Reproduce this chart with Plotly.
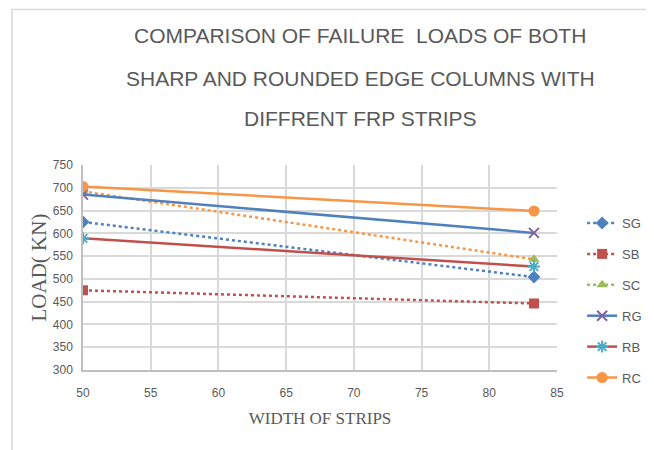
import plotly.graph_objects as go

widths = [50, 83.3]
SG = [625, 504]
SB = [475, 446]
SC = [692, 543]
RG = [685, 601]
RB = [589, 527]
RC = [703, 649]

x_ticks = [50, 55, 60, 65, 70, 75, 80, 85]
y_ticks = [300, 350, 400, 450, 500, 550, 600, 650, 700, 750]

title_lines = ["COMPARISON OF FAILURE  LOADS OF BOTH",
               "SHARP AND ROUNDED EDGE COLUMNS WITH",
               "DIFFRENT FRP STRIPS"]

BLUE = "#4F81BD"
RED = "#C0504D"
GREEN = "#9BBB59"
PURPLE = "#8064A2"
CYAN = "#4BACC6"
ORANGE = "#F79646"
TXT = "#595959"
SANS = "Liberation Sans, Arial, sans-serif"
SERIF = "Liberation Serif, Times New Roman, serif"

fig = go.Figure()

fig.add_trace(go.Scatter(x=widths, y=SG, name="SG", mode="lines+markers", legendgroup="a",
                         line=dict(color=BLUE, width=2.5, dash="dot"),
                         marker=dict(symbol="diamond", size=10, color=BLUE)))
fig.add_trace(go.Scatter(x=widths, y=SB, name="SB", mode="lines+markers", legendgroup="b",
                         line=dict(color=RED, width=2.5, dash="dot"),
                         marker=dict(symbol="square", size=10, color=RED)))
# SC: plotted line is orange dotted, legend shows green dotted
fig.add_trace(go.Scatter(x=widths, y=SC, name="SC", mode="lines+markers", showlegend=False,
                         line=dict(color=ORANGE, width=2.5, dash="dot"),
                         marker=dict(symbol="triangle-up", size=10, color=GREEN)))
fig.add_trace(go.Scatter(x=[None], y=[None], name="SC", mode="lines+markers", legendgroup="c",
                         line=dict(color=GREEN, width=2.5, dash="dot"),
                         marker=dict(symbol="triangle-up", size=10, color=GREEN)))
fig.add_trace(go.Scatter(x=widths, y=RG, name="RG", mode="lines+markers", legendgroup="d",
                         line=dict(color=BLUE, width=2.5),
                         marker=dict(symbol="x-thin", size=10, color=PURPLE,
                                     line=dict(color=PURPLE, width=2))))
fig.add_trace(go.Scatter(x=widths, y=RB, name="RB", mode="lines+markers", legendgroup="e",
                         line=dict(color=RED, width=2.5),
                         marker=dict(symbol="asterisk", size=10, color=CYAN,
                                     line=dict(color=CYAN, width=2))))
fig.add_trace(go.Scatter(x=widths, y=RC, name="RC", mode="lines+markers", legendgroup="f",
                         line=dict(color=ORANGE, width=2.5),
                         marker=dict(symbol="circle", size=11, color=ORANGE)))

title_y = [35, 78, 118]
annotations = [dict(text=t, xref="paper", yref="paper",
                    x=(360 - 83) / 474, y=(370 - yy) / 205, xanchor="center", yanchor="middle",
                    showarrow=False,
                    font=dict(family=SANS, size=21, color=TXT))
               for t, yy in zip(title_lines, title_y)]

fig.update_layout(
    template="none",
    width=646, height=442,
    paper_bgcolor="white", plot_bgcolor="white",
    margin=dict(l=75, r=97, t=157, b=80, autoexpand=False),
    showlegend=True,
    legend=dict(x=1.053, xanchor="left", y=0.79, yanchor="top", tracegroupgap=11,
                font=dict(family=SANS, size=13, color=TXT),
                bgcolor="rgba(0,0,0,0)"),
    xaxis=dict(range=[50, 85], tickvals=x_ticks, showgrid=True, gridcolor="#D9D9D9", gridwidth=1.5,
               showline=True, linecolor="#BFBFBF", linewidth=1.5, zeroline=False, automargin=False,
               ticks="", ticklabelstandoff=11,
               tickfont=dict(family=SANS, size=12, color=TXT),
               title=dict(text="WIDTH OF STRIPS", standoff=13,
                          font=dict(family=SERIF, size=17, color=TXT))),
    yaxis=dict(range=[300, 750], tickvals=y_ticks, showgrid=True, gridcolor="#D9D9D9", gridwidth=1.5,
               showline=True, linecolor="#BFBFBF", linewidth=1.5, zeroline=False, automargin=False,
               ticks="", ticklabelstandoff=6,
               tickfont=dict(family=SANS, size=12, color=TXT),
               title=dict(text="LOAD( KN)", standoff=0,
                          font=dict(family=SERIF, size=21, color=TXT))),
    annotations=annotations,
    shapes=[dict(type="rect", xref="paper", yref="paper",
                 x0=(12 - 83) / 474, x1=(652 - 83) / 474,
                 y0=(370 - 460) / 205, y1=(370 - 9.5) / 205,
                 line=dict(color="#D9D9D9", width=1.5), layer="below")],
)

fig.write_html("out.html")
